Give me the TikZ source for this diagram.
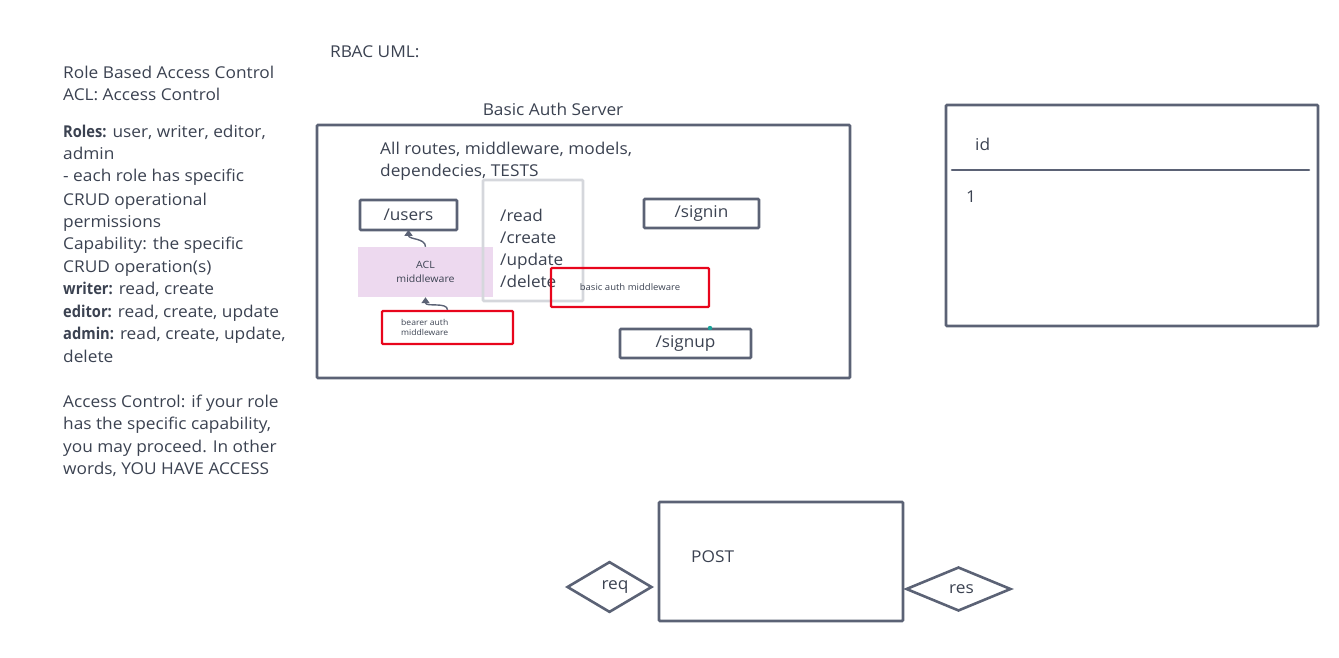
\documentclass[tikz,border=0pt]{standalone}
\usepackage{fontspec}
\setmainfont{Open Sans}[FakeStretch=1.06, BoldFeatures={FakeStretch=0.9}]
\usetikzlibrary{shapes.geometric,arrows.meta}
\definecolor{ink}{HTML}{3B4251}
\definecolor{edge}{HTML}{5B6275}
\definecolor{lgray}{HTML}{D5D7DC}
\definecolor{rred}{HTML}{E8051C}
\definecolor{lilac}{HTML}{EDD9EF}
\definecolor{tealdot}{HTML}{1AA39A}
\begin{document}
\begin{tikzpicture}[x=1pt,y=-1pt,
  box/.style={draw=edge, line width=2.6pt, inner sep=0pt, rounded corners=1pt},
  redbox/.style={draw=rred, line width=2.4pt, inner sep=0pt, rounded corners=1pt},
  graybox/.style={draw=lgray, line width=2.6pt, inner sep=0pt, rounded corners=1pt},
  txt/.style={text=ink, font=\fontsize{16.3}{22.5}\selectfont, inner sep=0pt, anchor=base west},
  big/.style={text=ink, font=\fontsize{16.2}{22}\selectfont, inner sep=0pt},
  small/.style={text=ink, font=\fontsize{10}{14}\selectfont, inner sep=0pt, align=center},
  conn/.style={draw=edge, line width=1.4pt, -{Triangle[length=6pt,width=8pt]}},
  dia/.style={diamond, draw=edge, line width=2.6pt, inner sep=0pt, text=ink,
    font=\fontsize{16.3}{18}\selectfont},
]
\useasboundingbox (0,0) rectangle (1339,658);

% left description
\foreach \t/\y in {{Role Based Access Control}/79, {ACL: Access Control}/101,
  {\textbf{Roles:} user, writer, editor,}/138, {admin}/160,
  {- each role has specific}/182, {CRUD operational}/205, {permissions}/227,
  {Capability: the specific}/249, {CRUD operation(s)}/272,
  {\textbf{writer:} read, create}/294, {\textbf{editor:} read, create, update}/317,
  {\textbf{admin:} read, create, update,}/339, {delete}/362,
  {Access Control: if your role}/407, {has the specific capability,}/429,
  {you may proceed. In other}/452, {words, YOU HAVE ACCESS}/474}
  \node[txt] at (63,\y) {\t};

\node[txt] (title) at (330,58) {RBAC UML:};
\node[txt, anchor=base] (srvlabel) at (553,116) {Basic Auth Server};

% server box
\node[box, minimum width=533pt, minimum height=253pt] (server) at (583.5,251.5) {};
\node[txt] (allroutes) at (380,154) {All routes, middleware, models,};
\node[txt] (deps) at (380,176) {dependecies, TESTS};

% ACL middleware fill
\node[fill=lilac, inner sep=0pt, minimum width=135pt, minimum height=50pt, small] (acl) at (425.5,272) {ACL\\middleware};

% gray CRUD box
\node[graybox, minimum width=100pt, minimum height=121pt] (crud) at (533,240.5) {};
\foreach \t/\y in {{/read}/221, {/create}/243, {/update}/265, {/delete}/287}
  \node[big, anchor=base west] at (500,\y) {\t};

% /users
\node[box, minimum width=97pt, minimum height=30pt, big] (users) at (408.5,215) {/users};

% bearer auth
\node[redbox, minimum width=131pt, minimum height=33pt] (bearer) at (447.5,327.5) {};
\node[text=ink, font=\fontsize{8.1}{10.5}\selectfont, inner sep=0pt, align=left, anchor=west] (bearertxt) at (401,327.5) {bearer auth\\middleware};

% basic auth
\node[redbox, minimum width=158pt, minimum height=39pt, text=ink, font=\fontsize{9}{12}\selectfont] (basic) at (630,287.5) {basic auth middleware};

% /signin, /signup
\node[box, minimum width=115pt, minimum height=29pt, big] (signin) at (701.5,213.5) {/signin};
\node[box, minimum width=131pt, minimum height=29pt, big] (signup) at (685.5,343.5) {/signup};
\fill[tealdot] (710,328) circle (2.2pt);

% connectors
\draw[conn] (acl.north) .. controls +(0,-9) and +(0,10) .. ([yshift=1.5pt]users.south);
\draw[conn] (bearer.north) .. controls +(0,-8) and +(0,10) .. (acl.south);

% id table
\node[box, minimum width=372pt, minimum height=221pt] (table) at (1132,215.5) {};
\coordinate (sepL) at (952,170);
\coordinate (sepR) at (1309,170);
\draw[draw=edge, line width=2.6pt, line cap=round] (sepL) -- (sepR);
\node[txt] (idlabel) at (975,150) {id};
\node[txt] (one) at (966,202) {1};

% POST
\node[box, minimum width=244pt, minimum height=119pt] (post) at (781,561.5) {};
\node[txt] (posttxt) at (691,562) {POST};
\node[dia, minimum width=85pt, minimum height=48pt] (req) at (609.5,587) {\hspace*{11pt}req};
\node[dia, minimum width=105pt, minimum height=44pt] (res) at (958.5,589) {\hspace*{6pt}res};
\end{tikzpicture}
\end{document}
